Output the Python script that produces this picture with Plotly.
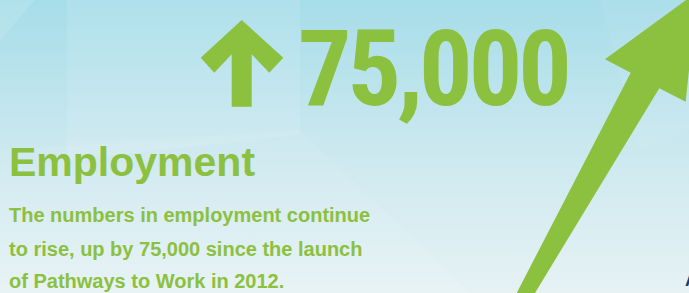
import plotly.graph_objects as go

# ---- content / data ----
headline_value = 75000
launch_year = 2012
title_text = "Employment"
body_lines = [
    "The numbers in employment continue",
    f"to rise, up by {headline_value:,} since the launch",
    f"of Pathways to Work in {launch_year}.",
]
headline_text = f"{headline_value:,}"

GREEN = "#8cc03f"
NAVY = "#1d3a78"
W, H = 689, 293

fig = go.Figure()

# background gradient
fig.add_trace(go.Scatter(
    x=[0, W, W, 0, 0], y=[0, 0, H, H, 0], mode="lines", line=dict(width=0),
    fill="toself",
    fillgradient=dict(type="vertical", start=0, stop=H,
                      colorscale=[[0, "#a6dde9"], [0.5, "#cbe8ef"], [1, "#e6f2f4"]]),
    hoverinfo="skip", showlegend=False))

# subtle lighter facets
facets = [
    ([67, 300, 300, 67], [0, 0, 135, 160], 0.10),
    ([0, 35, 0], [0, 0, 40], 0.12),
    ([0, 300, 470, 0], [150, 130, 293, 293], 0.08),
    ([600, 689, 689, 640], [0, 0, 130, 150], 0.06),
]
for fx, fy, op in facets:
    fig.add_trace(go.Scatter(x=fx + [fx[0]], y=fy + [fy[0]], mode="lines",
                             line=dict(width=0), fill="toself",
                             fillcolor=f"rgba(255,255,255,{op})",
                             hoverinfo="skip", showlegend=False))

# small up arrow
sx = [241.7, 283.3, 269.3, 251.7, 251.7, 231.7, 231.7, 214.3, 200.7, 241.7]
sy = [20, 57.7, 72.7, 54.3, 106.7, 106.7, 54.3, 72.7, 57.7, 20]
fig.add_trace(go.Scatter(x=sx, y=sy, mode="lines", line=dict(width=0),
                         fill="toself", fillcolor=GREEN,
                         hoverinfo="skip", showlegend=False))

# big rising arrow
bx = [697, 685.7, 659.3, 535, 516.7, 630.7, 605, 697]
by = [-8, 101.7, 88.3, 293, 293, 72.7, 59.3, -8]
fig.add_trace(go.Scatter(x=bx, y=by, mode="lines", line=dict(width=0),
                         fill="toself", fillcolor=GREEN,
                         hoverinfo="skip", showlegend=False))

ann = []
ann.append(dict(x=296, y=5,
                text=f"<span style='letter-spacing:-4px'><b>{headline_text}</b></span>",
                showarrow=False, xanchor="left", yanchor="top",
                font=dict(family="Roboto Condensed, sans-serif", size=106, color=GREEN)))
ann.append(dict(x=7, y=137, text=f"<b>{title_text}</b>", showarrow=False,
                xanchor="left", yanchor="top",
                font=dict(family="Liberation Sans, Arial, sans-serif", size=41, color=GREEN)))
line_tops = [202, 236, 268]
for t, yt in zip(body_lines, line_tops):
    ann.append(dict(x=7, y=yt, text=f"<b>{t}</b>", showarrow=False,
                    xanchor="left", yanchor="top",
                    font=dict(family="Liberation Sans, Arial, sans-serif", size=20, color=GREEN)))
ann.append(dict(x=683, y=268, text="<b>A</b>", showarrow=False, xanchor="left", yanchor="top",
                font=dict(family="Liberation Sans, Arial, sans-serif", size=18, color=NAVY)))

fig.update_layout(
    width=W, height=H, margin=dict(l=0, r=0, t=0, b=0),
    paper_bgcolor="#d4ecf1", plot_bgcolor="#d4ecf1",
    xaxis=dict(range=[0, W], visible=False, fixedrange=True),
    yaxis=dict(range=[H, 0], visible=False, fixedrange=True),
    annotations=ann, showlegend=False,
)
fig.write_html("out.html", config={"displayModeBar": False},
               post_script="document.body.style.margin='0px';")
